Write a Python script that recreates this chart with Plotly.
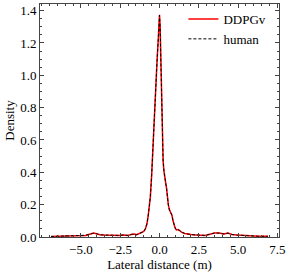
import plotly.graph_objects as go

lateral_x = [-6.9, -6.5, -6.0, -5.5, -5.0, -4.7, -4.5, -4.2, -4.0, -3.8, -3.5, -3.2,
             -2.9, -2.6, -2.3, -2.0, -1.8, -1.6, -1.45, -1.3, -1.15, -1.0, -0.9, -0.8,
             -0.72, -0.65, -0.58, -0.5, -0.42, -0.35, -0.28, -0.22, -0.15, -0.08, -0.03,
             0.0, 0.04, 0.08, 0.12, 0.16, 0.19, 0.23, 0.28, 0.34, 0.40, 0.45, 0.50, 0.56,
             0.63, 0.71, 0.79, 0.86, 0.93, 1.0, 1.08, 1.18, 1.28, 1.4, 1.6, 1.8, 2.0,
             2.3, 2.6, 2.9, 3.2, 3.5, 3.8, 4.1, 4.35, 4.6, 4.9, 5.2, 5.5, 5.9, 6.3, 6.9]

ddpgv_density = [0.003, 0.004, 0.005, 0.006, 0.008, 0.010, 0.016, 0.024, 0.020, 0.014,
                 0.012, 0.010, 0.008, 0.010, 0.012, 0.010, 0.016, 0.018, 0.014, 0.020,
                 0.028, 0.034, 0.050, 0.080, 0.130, 0.180, 0.250, 0.380, 0.560, 0.730,
                 0.880, 1.000, 1.100, 1.220, 1.320, 1.375, 1.300, 1.100, 0.900, 0.680,
                 0.560, 0.470, 0.410, 0.380, 0.330, 0.300, 0.250, 0.200, 0.168, 0.150,
                 0.135, 0.100, 0.072, 0.055, 0.044, 0.046, 0.040, 0.030, 0.022, 0.018,
                 0.015, 0.013, 0.012, 0.010, 0.017, 0.025, 0.024, 0.018, 0.024, 0.016,
                 0.012, 0.010, 0.008, 0.006, 0.005, 0.004]

human_density = [0.003, 0.004, 0.005, 0.006, 0.008, 0.011, 0.016, 0.023, 0.020, 0.014,
                 0.012, 0.010, 0.008, 0.010, 0.012, 0.010, 0.016, 0.018, 0.014, 0.020,
                 0.028, 0.034, 0.050, 0.082, 0.130, 0.180, 0.252, 0.380, 0.560, 0.728,
                 0.880, 1.000, 1.100, 1.220, 1.320, 1.372, 1.300, 1.100, 0.900, 0.680,
                 0.560, 0.470, 0.410, 0.380, 0.330, 0.300, 0.250, 0.200, 0.168, 0.150,
                 0.135, 0.100, 0.072, 0.055, 0.044, 0.046, 0.040, 0.030, 0.022, 0.018,
                 0.015, 0.013, 0.012, 0.010, 0.017, 0.025, 0.024, 0.018, 0.024, 0.016,
                 0.012, 0.010, 0.008, 0.006, 0.005, 0.004]

x_ticks = [-5.0, -2.5, 0.0, 2.5, 5.0, 7.5]
y_ticks = [0.0, 0.2, 0.4, 0.6, 0.8, 1.0, 1.2, 1.4]

FONT = "Liberation Serif, Times New Roman, serif"
AXIS_COLOR = "#444444"

fig = go.Figure()
fig.add_trace(go.Scatter(x=lateral_x, y=ddpgv_density, mode="lines", name="DDPGv",
                         line=dict(color="#ff0000", width=1.5)))
fig.add_trace(go.Scatter(x=lateral_x, y=human_density, mode="lines", name="human",
                         line=dict(color="#000000", width=1, dash="3px,2px")))

axis_common = dict(
    showline=True, linecolor=AXIS_COLOR, linewidth=1, mirror="allticks",
    ticks="inside", ticklen=4, tickwidth=1, tickcolor=AXIS_COLOR,
    showgrid=False, zeroline=False,
    tickfont=dict(family=FONT, size=13, color="black"),
)

fig.update_xaxes(
    range=[-7.6, 7.6], tickvals=x_ticks,
    ticktext=[f"{v:.1f}".replace("-", "\u2212") for v in x_ticks],
    minor=dict(dtick=0.5, tick0=0, ticks="inside", ticklen=2, tickcolor=AXIS_COLOR),
    title=dict(text="Lateral distance (m)", font=dict(family=FONT, size=13, color="black"), standoff=0),
    automargin=True,
    **axis_common,
)
fig.update_yaxes(
    range=[0, 1.441], tickvals=y_ticks, ticktext=[f"{v:.1f}" for v in y_ticks],
    minor=dict(dtick=0.05, tick0=0, ticks="inside", ticklen=2, tickcolor=AXIS_COLOR),
    title=dict(text="Density", font=dict(family=FONT, size=13, color="black"), standoff=2),
    **axis_common,
)

fig.update_layout(
    width=291, height=273,
    margin=dict(l=40, r=12, t=4, b=36),
    paper_bgcolor="white", plot_bgcolor="white",
    font=dict(family=FONT, size=13, color="black"),
    showlegend=True,
    legend=dict(x=0.6, y=1.0, xanchor="left", yanchor="top",
                bgcolor="rgba(0,0,0,0)", borderwidth=0,
                font=dict(family=FONT, size=13, color="black"),
                itemwidth=30, tracegroupgap=0),
)

fig.write_html("out.html", config={"displayModeBar": False},
               post_script="document.body.style.margin='0';")
